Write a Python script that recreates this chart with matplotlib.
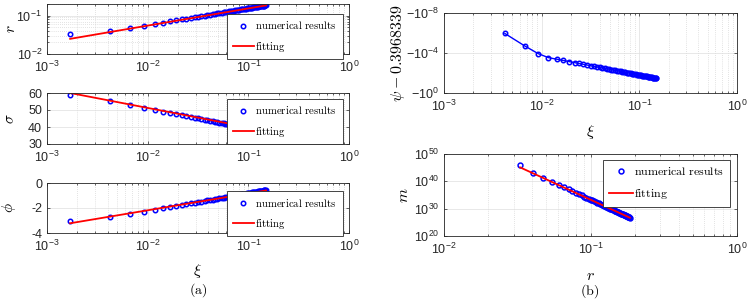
import numpy as np
import matplotlib
matplotlib.use('Agg')
import matplotlib.pyplot as plt
from matplotlib.ticker import FixedLocator, FixedFormatter, NullFormatter, NullLocator, LogLocator

plt.rcParams['font.family'] = ['Liberation Sans', 'DejaVu Sans']
plt.rcParams['mathtext.fontset'] = 'cm'
plt.rcParams['axes.unicode_minus'] = False

# ---------------- data ----------------
xi = [0.0017, 0.0042, 0.0067, 0.0092, 0.0117, 0.0142, 0.0167, 0.0192, 0.0217, 0.0242,
      0.0267, 0.0292, 0.0317, 0.0342, 0.0367, 0.0392, 0.0417, 0.0442, 0.0467, 0.0492,
      0.0517, 0.0542, 0.0567, 0.0592, 0.0617, 0.0642, 0.0667, 0.0692, 0.0717, 0.0742,
      0.0767, 0.0792, 0.0817, 0.0842, 0.0867, 0.0892, 0.0917, 0.0942, 0.0967, 0.0992,
      0.1017, 0.1042, 0.1067, 0.1092, 0.1117, 0.1142, 0.1167, 0.1192, 0.1217, 0.1242,
      0.1267, 0.1292, 0.1317, 0.1342, 0.1367, 0.1392, 0.1417, 0.1442, 0.1467, 0.1492]

r_num = [0.0331, 0.0407, 0.0474, 0.0545, 0.0605, 0.0659, 0.0708, 0.0753, 0.0795, 0.0833,
         0.0870, 0.0905, 0.0939, 0.0971, 0.1001, 0.1030, 0.1059, 0.1086, 0.1113, 0.1139,
         0.1164, 0.1189, 0.1213, 0.1236, 0.1259, 0.1280, 0.1302, 0.1323, 0.1344, 0.1365,
         0.1385, 0.1404, 0.1424, 0.1443, 0.1461, 0.1480, 0.1498, 0.1516, 0.1533, 0.1550,
         0.1567, 0.1584, 0.1601, 0.1617, 0.1633, 0.1649, 0.1665, 0.1681, 0.1697, 0.1712,
         0.1727, 0.1742, 0.1757, 0.1771, 0.1786, 0.1800, 0.1814, 0.1828, 0.1841, 0.1855]

sigma_num = [58.8, 55.30, 52.93, 51.32, 50.10, 49.11, 48.29, 47.58, 46.96, 46.41,
             45.91, 45.45, 45.03, 44.65, 44.29, 43.95, 43.64, 43.34, 43.06, 42.80,
             42.55, 42.31, 42.08, 41.86, 41.65, 41.45, 41.25, 41.07, 40.89, 40.71,
             40.54, 40.38, 40.22, 40.07, 39.92, 39.78, 39.64, 39.50, 39.37, 39.24,
             39.11, 38.99, 38.87, 38.75, 38.63, 38.52, 38.41, 38.30, 38.20, 38.10,
             37.99, 37.89, 37.80, 37.70, 37.61, 37.52, 37.42, 37.34, 37.25, 37.16]

phi_num = [-3.03, -2.68, -2.47, -2.300, -2.150, -2.029, -1.928, -1.841, -1.764, -1.696,
           -1.635, -1.579, -1.528, -1.480, -1.436, -1.395, -1.356, -1.320, -1.286, -1.253,
           -1.222, -1.193, -1.164, -1.138, -1.112, -1.087, -1.063, -1.040, -1.018, -0.997,
           -0.976, -0.956, -0.936, -0.918, -0.899, -0.881, -0.864, -0.847, -0.831, -0.815,
           -0.800, -0.784, -0.770, -0.755, -0.741, -0.727, -0.714, -0.700, -0.688, -0.675,
           -0.662, -0.650, -0.638, -0.627, -0.615, -0.604, -0.592, -0.582, -0.571, -0.560]

xi_psi = xi[1:]
psi_shift = [-1.12e-6, -1.95e-5, -1.15e-4, -2.88e-4, -4.14e-4, -5.61e-4, -7.28e-4, -9.16e-4, -1.12e-3,
             -1.35e-3, -1.60e-3, -1.86e-3, -2.14e-3, -2.44e-3, -2.77e-3, -3.10e-3, -3.46e-3, -3.84e-3, -4.24e-3,
             -4.65e-3, -5.07e-3, -5.52e-3, -5.98e-3, -6.46e-3, -6.95e-3, -7.48e-3, -8.00e-3, -8.55e-3, -9.12e-3,
             -9.70e-3, -1.03e-2, -1.09e-2, -1.16e-2, -1.22e-2, -1.29e-2, -1.36e-2, -1.43e-2, -1.50e-2, -1.57e-2,
             -1.64e-2, -1.72e-2, -1.80e-2, -1.88e-2, -1.96e-2, -2.04e-2, -2.13e-2, -2.21e-2, -2.30e-2, -2.39e-2,
             -2.48e-2, -2.58e-2, -2.67e-2, -2.76e-2, -2.86e-2, -2.96e-2, -3.06e-2, -3.16e-2, -3.27e-2, -3.37e-2]

m_num = [1.26e46, 1.58e43, 1.95e41, 6.46e39, 4.79e38, 5.89e37, 1.05e37, 2.29e36, 6.17e35, 1.91e35,
         6.61e34, 2.51e34, 1.02e34, 4.57e33, 2.14e33, 1.05e33, 5.37e32, 2.88e32, 1.58e32, 9.12e31,
         5.25e31, 3.16e31, 1.95e31, 1.23e31, 7.94e30, 5.13e30, 3.39e30, 2.29e30, 1.55e30, 1.07e30,
         7.59e29, 5.37e29, 3.80e29, 2.75e29, 2.00e29, 1.48e29, 1.10e29, 8.32e28, 6.17e28, 4.68e28,
         3.63e28, 2.75e28, 2.14e28, 1.66e28, 1.32e28, 1.02e28, 8.13e27, 6.46e27, 5.25e27, 4.17e27,
         3.39e27, 2.75e27, 2.24e27, 1.82e27, 1.48e27, 1.23e27, 1.00e27, 8.32e26, 6.92e26, 5.75e26]

# fitted lines (end points)
xi_fit = [0.0017, 0.15]
r_fit = [0.0248, 0.184]
sigma_fit = [60.0, 37.8]
phi_fit = [-3.22, -0.60]
r_fit_m = [0.0331, 0.1855]
m_fit = [1.26e45, 5.0e26]

leg_labels = [r'$\mathrm{numerical\ results}$', r'$\mathrm{fitting}$']

# ---------------- styling ----------------
AX = '#262626'
W, H = 747, 301
fig = plt.figure(figsize=(W / 100, H / 100), dpi=100)


def add_ax(x0, y0, x1, y1):
    return fig.add_axes([x0 / W, 1 - y1 / H, (x1 - x0) / W, (y1 - y0) / H])


def style(ax, yminor_grid=False):
    for s in ax.spines.values():
        s.set_color(AX)
        s.set_linewidth(0.6)
    ax.tick_params(which='both', direction='in', top=True, right=True, color=AX,
                   labelcolor=AX)
    ax.tick_params(which='major', length=2.5, width=0.5, labelsize=9, pad=3.5)
    ax.tick_params(axis='x', which='major', pad=4.5)
    ax.tick_params(which='minor', length=1.5, width=0.5)
    ax.grid(True, which='major', color='#dedede', lw=0.5, ls='-')
    ax.grid(True, which='minor', axis='x', color='#c8c8c8', lw=0.5, ls=(0, (1, 2)))
    if yminor_grid:
        ax.grid(True, which='minor', axis='y', color='#c8c8c8', lw=0.5, ls=(0, (1, 2)))
    ax.set_axisbelow(True)
    ax.xaxis.set_minor_formatter(NullFormatter())
    ax.yaxis.set_minor_formatter(NullFormatter())


def leg(ax, anchor, fs):
    L = ax.legend(leg_labels, loc='upper right', bbox_to_anchor=anchor, borderaxespad=0,
                  fontsize=fs, fancybox=False, framealpha=1, edgecolor=AX,
                  handlelength=2.0, handletextpad=0.1, labelspacing=0.75, borderpad=0.5,
                  numpoints=1)
    L.get_frame().set_linewidth(0.6)
    return L


mk = dict(marker='o', ls='none', mfc='none', mec='blue', ms=3.2, mew=1.1)
fitkw = dict(color='red', lw=1.3)

# ---- left column ----
ax1 = add_ax(47, 4, 349, 54)
ax2 = add_ax(47, 93, 349, 144)
ax3 = add_ax(47, 183, 349, 233)

ax1.plot(xi, r_num, **mk)
ax1.plot(xi_fit, r_fit, **fitkw)
ax1.set_xscale('log'); ax1.set_yscale('log')
ax1.set_ylim(0.01, 0.2)
ax1.yaxis.set_major_locator(FixedLocator([0.01, 0.1]))
ax1.set_ylabel(r'$r$', fontsize=11)

ax2.plot(xi, sigma_num, **mk)
ax2.plot(xi_fit, sigma_fit, **fitkw)
ax2.set_xscale('log')
ax2.set_ylim(30, 60)
ax2.set_yticks([30, 40, 50, 60])
ax2.set_ylabel(r'$\sigma$', fontsize=11)

ax3.plot(xi, phi_num, **mk)
ax3.plot(xi_fit, phi_fit, **fitkw)
ax3.set_xscale('log')
ax3.set_ylim(-4, 0)
ax3.set_yticks([-4, -2, 0])
ax3.set_ylabel(r'$\phi$', fontsize=11)
ax3.set_xlabel(r'$\xi$', fontsize=11.5)

for ax, anc in [(ax1, (0.979, 0.80)), (ax2, (0.979, 0.882)), (ax3, (0.979, 0.831))]:
    ax.set_xlim(1e-3, 1)
    ax.xaxis.set_major_locator(FixedLocator([1e-3, 1e-2, 1e-1, 1]))
    ax.xaxis.set_minor_locator(LogLocator(base=10, subs=np.arange(2, 10)))
    style(ax, yminor_grid=(ax is ax1))
    ax.yaxis.set_label_coords(-0.097, 0.5)
    leg(ax, anc, 7.8)
ax1.yaxis.set_minor_locator(LogLocator(base=10, subs=np.arange(2, 10)))
ax3.xaxis.set_label_coords(0.5, -0.57)
fig.text(198 / W, 1 - 290 / H, r'$\mathrm{(a)}$', ha='center', va='center', fontsize=10)

# ---- right column ----
ax4 = add_ax(444, 13, 737, 93)
ax5 = add_ax(444, 154, 737, 236)

ax4.plot(xi_psi, [-v for v in psi_shift], color='blue', lw=1.0, marker='o', mfc='none',
         mec='blue', ms=3.2, mew=1.1)
ax4.set_xscale('log'); ax4.set_yscale('log')
ax4.set_xlim(1e-3, 1)
ax4.set_ylim(1, 1e-8)
ax4.xaxis.set_major_locator(FixedLocator([1e-3, 1e-2, 1e-1, 1]))
ax4.xaxis.set_minor_locator(LogLocator(base=10, subs=np.arange(2, 10)))
ax4.yaxis.set_major_locator(FixedLocator([1e-8, 1e-4, 1]))
ax4.yaxis.set_major_formatter(FixedFormatter([r'$\mathdefault{-10^{-8}}$',
                                              r'$\mathdefault{-10^{-4}}$',
                                              r'$\mathdefault{-10^{0}}$']))
ax4.yaxis.set_minor_locator(NullLocator())
style(ax4)
ax4.set_ylabel(r'$\psi-0.3968339$', fontsize=11.5)
ax4.set_xlabel(r'$\xi$', fontsize=11.5)
ax4.yaxis.set_label_coords(-0.125, 0.5)
ax4.xaxis.set_label_coords(0.5, -0.37)

ax5.plot(r_num, m_num, marker='o', ls='none', mfc='none', mec='blue', ms=3.5, mew=1.1)
ax5.plot(r_fit_m, m_fit, **fitkw)
ax5.set_xscale('log'); ax5.set_yscale('log')
ax5.set_xlim(1e-2, 1)
ax5.set_ylim(1e20, 1e50)
ax5.xaxis.set_major_locator(FixedLocator([1e-2, 1e-1, 1]))
ax5.xaxis.set_minor_locator(LogLocator(base=10, subs=np.arange(2, 10)))
ax5.yaxis.set_major_locator(FixedLocator([1e20, 1e30, 1e40, 1e50]))
ax5.yaxis.set_minor_locator(NullLocator())
style(ax5)
ax5.set_ylabel(r'$m$', fontsize=11.5)
ax5.set_xlabel(r'$r$', fontsize=11.5)
ax5.yaxis.set_label_coords(-0.112, 0.5)
ax5.xaxis.set_label_coords(0.5, -0.39)
leg(ax5, (0.976, 0.927), 8.6)
fig.text(590 / W, 1 - 291 / H, r'$\mathrm{(b)}$', ha='center', va='center', fontsize=10)

fig.savefig('out.png', dpi=100)
